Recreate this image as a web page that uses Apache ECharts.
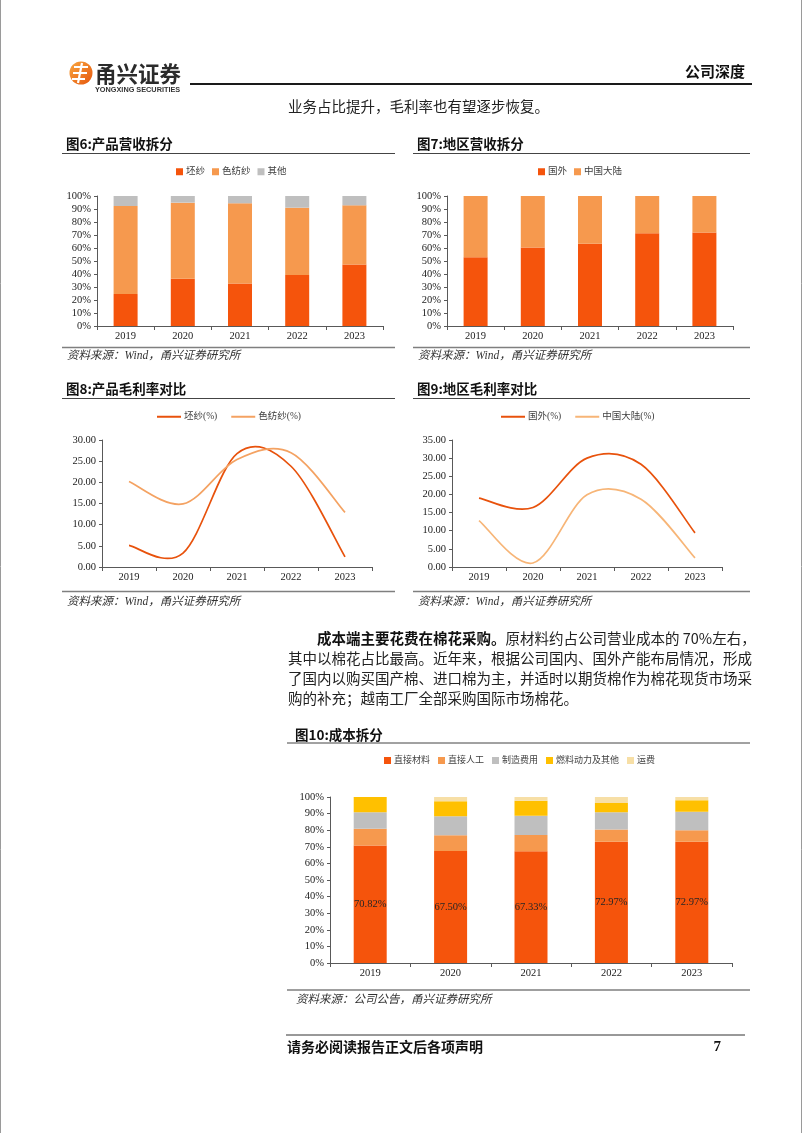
<!DOCTYPE html>
<html>
<head>
<meta charset="utf-8">
<script src="https://cdn.jsdelivr.net/npm/echarts@6/dist/echarts.min.js"></script>
<style>
html,body{margin:0;padding:0;background:#fff;}
#page{width:802px;height:1133px;}
</style>
</head>
<body>
<div id="page"></div>
<script>
// ---------- data ----------
const years = ['2019', '2020', '2021', '2022', '2023'];
// 图6 产品营收拆分 (%)
const prodPizha = [24.6, 36.4, 32.6, 39.2, 47.4];
const prodSefang = [67.7, 58.5, 61.8, 51.8, 45.4];
const prodOther = [7.7, 5.1, 5.6, 9.0, 7.2];
// 图7 地区营收拆分 (%)
const regionForeign = [52.9, 60.4, 63.2, 71.4, 71.9];
const regionMainland = [47.1, 39.6, 36.8, 28.6, 28.1];
// 图8 产品毛利率 (%)
const gmPizha = [5.1, 3.3, 26.8, 23.8, 2.4];
const gmSefang = [20.2, 14.9, 25.4, 27.0, 12.9];
// 图9 地区毛利率 (%)
const gmForeign = [19.0, 16.4, 30.0, 28.3, 9.4];
const gmMainland = [12.8, 1.1, 19.9, 18.7, 2.5];
// 图10 成本拆分 (%)
const costMaterial = [70.82, 67.50, 67.33, 72.97, 72.97];
const costLabor = [10.0, 9.5, 9.8, 7.4, 7.0];
const costMfg = [10.0, 11.4, 11.6, 10.4, 11.2];
const costFuel = [9.2, 9.0, 9.0, 5.6, 6.8];
const costFreight = [0, 2.6, 2.2, 3.6, 2.0];
const pctTicks = [0, 100, 10];
const gm8Ticks = [0, 30, 5];
const gm9Ticks = [0, 35, 5];

// ---------- styles ----------
const NUMFONT = "'Liberation Serif','Noto Sans CJK SC'";
const CJK = "'Noto Sans CJK SC'";
const C_DEEP = '#F5540C';
const C_MID = '#F6994E';
const C_GRAY = '#BFBFBF';
const C_GOLD = '#FFC000';
const C_BEIGE = '#F7DFA6';
const AX = '#595959';

function xAx(gi) {
  return {
    type: 'category', gridIndex: gi, data: years,
    axisLine: {show: true, lineStyle: {color: AX, width: 1}},
    axisTick: {show: true, length: 4, lineStyle: {color: AX}},
    axisLabel: {color: '#222', fontFamily: NUMFONT, fontSize: 10.5, margin: 5},
    splitLine: {show: false}
  };
}
function yAx(gi, t, fmt) {
  return {
    type: 'value', gridIndex: gi, min: t[0], max: t[1], interval: t[2],
    axisLine: {show: true, lineStyle: {color: AX, width: 1}},
    axisTick: {show: true, length: 3, lineStyle: {color: AX}},
    axisLabel: {color: '#222', fontFamily: NUMFONT, fontSize: 10.5, margin: 6, formatter: fmt},
    splitLine: {show: false}
  };
}
const pctFmt = v => v + '%';
const decFmt = v => v.toFixed(2);

function bar(name, data, gi, color, width, stack, extra) {
  return Object.assign({
    name, type: 'bar', xAxisIndex: gi, yAxisIndex: gi, stack,
    data, barWidth: width, itemStyle: {color}, animation: false
  }, extra || {});
}
// smooth curve (spreadsheet-style cardinal spline) drawn through the library's own coordinate system
function curve(name, values, gi, color) {
  return {
    name, type: 'custom', xAxisIndex: gi, yAxisIndex: gi, clip: false,
    itemStyle: {color}, animation: false, silent: true,
    encode: {x: 0, y: 1},
    data: values.map((v, i) => [i, v]),
    renderItem: function (params, api) {
      if (params.dataIndex !== 0) return null;
      const pts = values.map((v, i) => api.coord([i, v]));
      const n = pts.length;
      let d = 'M' + pts[0][0] + ' ' + pts[0][1];
      for (let i = 0; i < n - 1; i++) {
        const p0 = pts[Math.max(i - 1, 0)], p1 = pts[i], p2 = pts[i + 1], p3 = pts[Math.min(i + 2, n - 1)];
        const c1 = [p1[0] + (p2[0] - p0[0]) / 6, p1[1] + (p2[1] - p0[1]) / 6];
        const c2 = [p2[0] - (p3[0] - p1[0]) / 6, p2[1] - (p3[1] - p1[1]) / 6];
        d += ' C' + c1[0] + ' ' + c1[1] + ' ' + c2[0] + ' ' + c2[1] + ' ' + p2[0] + ' ' + p2[1];
      }
      return {type: 'path', shape: {pathData: d}, style: {stroke: color, fill: null, lineWidth: 1.7}};
    }
  };
}
function legendBox(left, top, names, opt) {
  return Object.assign({
    left, top, data: names, icon: 'rect', itemWidth: 7, itemHeight: 7, itemGap: 7,
    textStyle: {color: '#404040', fontFamily: NUMFONT, fontSize: 9.5, padding: [0, 0, 0, -2]},
    selectedMode: false, padding: 0
  }, opt || {});
}

// ---------- text / decorations ----------
const g = [];
function txt(x, y, text, font, fill, align, extra) {
  g.push({type: 'text', silent: true, style: Object.assign({
    x, y, text, font, fill: fill || '#222', align: align || 'left', verticalAlign: 'middle'
  }, extra || {})});
}
function hline(x1, x2, y, w, color) {
  g.push({type: 'line', silent: true, shape: {x1, y1: y, x2, y2: y}, style: {stroke: color || '#333', lineWidth: w || 1}});
}
// page edges
g.push({type: 'line', silent: true, shape: {x1: 0.5, y1: 0, x2: 0.5, y2: 1133}, style: {stroke: '#9a9a9a', lineWidth: 1}});
g.push({type: 'line', silent: true, shape: {x1: 801.5, y1: 0, x2: 801.5, y2: 1133}, style: {stroke: '#9a9a9a', lineWidth: 1}});
// logo
g.push({type: 'circle', silent: true, shape: {cx: 81, cy: 73, r: 11.5},
  style: {fill: new echarts.graphic.LinearGradient(0, 0, 1, 1, [{offset: 0, color: '#F9A640'}, {offset: 1, color: '#E5560C'}])}});
g.push({type: 'polyline', silent: true, shape: {points: [[74, 67], [88, 67]]}, style: {stroke: '#fff', lineWidth: 2}});
g.push({type: 'polyline', silent: true, shape: {points: [[73, 73], [87, 73]]}, style: {stroke: '#fff', lineWidth: 2}});
g.push({type: 'polyline', silent: true, shape: {points: [[72, 79], [85, 79]]}, style: {stroke: '#fff', lineWidth: 2}});
g.push({type: 'polyline', silent: true, shape: {points: [[82, 63], [78, 83]]}, style: {stroke: '#fff', lineWidth: 2.2}});
txt(95, 73.5, '甬兴证券', "bold 21.5px " + CJK, '#2b2b2b');
txt(95, 89.5, 'YONGXING SECURITIES', "bold 7.3px 'Liberation Sans'", '#333');
hline(190, 752, 84, 2, '#1a1a1a');
txt(745, 71, '公司深度', "bold 15px " + CJK, '#111', 'right');
txt(288, 106, '业务占比提升，毛利率也有望逐步恢复。', "14.5px " + CJK, '#222');

// figure headers
function figHead(x, x2, yTitle, yLine, title) {
  txt(x, yTitle, title, "bold 13.5px " + CJK, '#111');
  hline(x2[0], x2[1], yLine, 1, '#444');
}
function figSrc(x1, x2, yLine, yText, text) {
  hline(x1, x2, yLine, 1.5, '#7f7f7f');
  txt(x1 + 5, yText, text, "italic 11.5px " + NUMFONT, '#333');
}
figHead(66, [62, 395], 144, 153.5, '图6:产品营收拆分');
figHead(417, [413, 750], 144, 153.5, '图7:地区营收拆分');
figSrc(62, 395, 347.5, 356, '资料来源：Wind，甬兴证券研究所');
figSrc(413, 750, 347.5, 356, '资料来源：Wind，甬兴证券研究所');
figHead(66, [62, 395], 389, 398.5, '图8:产品毛利率对比');
figHead(417, [413, 750], 389, 398.5, '图9:地区毛利率对比');
figSrc(62, 395, 591.5, 601.5, '资料来源：Wind，甬兴证券研究所');
figSrc(413, 750, 591.5, 601.5, '资料来源：Wind，甬兴证券研究所');

// paragraph
txt(317, 638, '成本端主要花费在棉花采购。', "bold 14.5px " + CJK, '#111');
txt(505.5, 638, '原材料约占公司营业成本的 70%左右，', "14.5px " + CJK, '#222');
txt(288, 658, '其中以棉花占比最高。近年来，根据公司国内、国外产能布局情况，形成', "14.5px " + CJK, '#222');
txt(288, 678, '了国内以购买国产棉、进口棉为主，并适时以期货棉作为棉花现货市场采', "14.5px " + CJK, '#222');
txt(288, 698, '购的补充；越南工厂全部采购国际市场棉花。', "14.5px " + CJK, '#222');

figHead(295, [287, 750], 735, 743, '图10:成本拆分');
hline(287, 750, 990, 1.5, '#7f7f7f');
txt(296, 999.5, '资料来源：公司公告，甬兴证券研究所', "italic 11.5px " + NUMFONT, '#333');

// footer
hline(286, 745, 1035, 1, '#333');
txt(287, 1047, '请务必阅读报告正文后各项声明', "bold 14px " + CJK, '#111');
txt(721, 1047, '7', "bold 15px 'Liberation Serif'", '#111', 'right');

// ---------- chart ----------
const chart = echarts.init(document.getElementById('page'), null, {renderer: 'canvas'});
chart.setOption({
  backgroundColor: '#fff',
  animation: false,
  grid: [
    {left: 97, top: 196, width: 286, height: 130},
    {left: 447, top: 196, width: 286, height: 130},
    {left: 102, top: 440, width: 270, height: 127},
    {left: 452, top: 440, width: 270, height: 127},
    {left: 330, top: 797, width: 402, height: 166}
  ],
  xAxis: [xAx(0), xAx(1), xAx(2), xAx(3), xAx(4)],
  yAxis: [yAx(0, pctTicks, pctFmt), yAx(1, pctTicks, pctFmt), yAx(2, gm8Ticks, decFmt), yAx(3, gm9Ticks, decFmt), yAx(4, pctTicks, pctFmt)],
  legend: [
    legendBox(176, 167, ['坯纱', '色纺纱', '其他']),
    legendBox(538, 167, ['国外', '中国大陆']),
    legendBox(157, 412, ['坯纱(%)', '色纺纱(%)'], {itemWidth: 24, itemHeight: 2, itemGap: 14}),
    legendBox(501, 412, ['国外(%)', '中国大陆(%)'], {itemWidth: 24, itemHeight: 2, itemGap: 14}),
    legendBox(384, 756, ['直接材料', '直接人工', '制造费用', '燃料动力及其他', '运费'], {itemGap: 8, textStyle: {color: '#404040', fontFamily: NUMFONT, fontSize: 9, padding: [0, 0, 0, -2]}})
  ],
  series: [
    bar('坯纱', prodPizha, 0, C_DEEP, 24, 'p'),
    bar('色纺纱', prodSefang, 0, C_MID, 24, 'p'),
    bar('其他', prodOther, 0, C_GRAY, 24, 'p'),
    bar('国外', regionForeign, 1, C_DEEP, 24, 'r'),
    bar('中国大陆', regionMainland, 1, C_MID, 24, 'r'),
    curve('坯纱(%)', gmPizha, 2, '#E8520C'),
    curve('色纺纱(%)', gmSefang, 2, '#F4A262'),
    curve('国外(%)', gmForeign, 3, '#E8520C'),
    curve('中国大陆(%)', gmMainland, 3, '#F7B577'),
    bar('直接材料', costMaterial, 4, C_DEEP, 33, 'c', {
      label: {show: true, position: 'inside', color: '#262626', fontFamily: NUMFONT, fontSize: 10.5,
        formatter: p => p.value.toFixed(2) + '%'}
    }),
    bar('直接人工', costLabor, 4, C_MID, 33, 'c'),
    bar('制造费用', costMfg, 4, C_GRAY, 33, 'c'),
    bar('燃料动力及其他', costFuel, 4, C_GOLD, 33, 'c'),
    bar('运费', costFreight, 4, C_BEIGE, 33, 'c')
  ],
  graphic: g
});
</script>
</body>
</html>
